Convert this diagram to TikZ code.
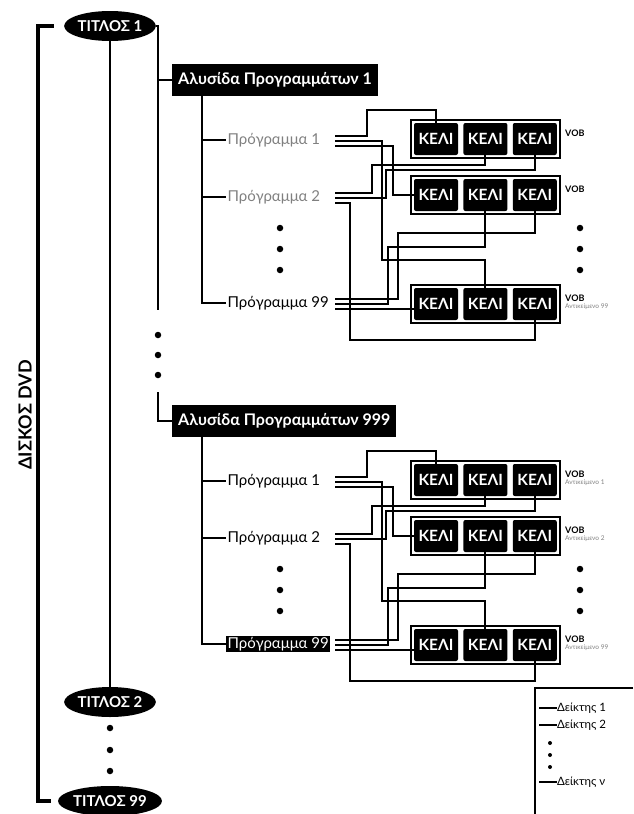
\documentclass[tikz,border=0pt]{standalone}
\usepackage{fontspec}
\setmainfont{Lato}
\usetikzlibrary{positioning, fit, shapes.geometric}
\tikzset{
  title/.style={
    ellipse,
    fill=black,
    text=white,
    inner sep=0pt,
    minimum width=90pt,
    minimum height=30pt,
    font=\bfseries\fontsize{15}{15}\selectfont
  },
  chainbox/.style={
    fill=black,
    text=white,
    anchor=west,
    minimum height=32pt,
    inner xsep=6pt,
    font=\bfseries\fontsize{16}{16}\selectfont
  },
  cell/.style={
    fill=black,
    text=white,
    rounded corners=2pt,
    minimum width=44pt,
    minimum height=32pt,
    inner sep=0pt,
    font=\bfseries\fontsize{15.5}{16}\selectfont
  },
  vobframe/.style={draw, line width=1.6pt, inner sep=3pt},
  vobtext/.style={anchor=west, inner sep=0pt, font=\bfseries\fontsize{9}{9}\selectfont},
  vobsub/.style={anchor=north west, inner sep=0pt, text=gray, font=\fontsize{6.5}{6.5}\selectfont},
  prog/.style={anchor=west, inner sep=1.5pt, font=\fontsize{15}{15}\selectfont},
  legtext/.style={anchor=west, inner sep=0pt, font=\fontsize{11.5}{12}\selectfont},
  dot/.style={circle, fill=black, inner sep=0pt, minimum size=6.5pt},
  link/.style={line width=2.4pt},
  ptr/.style={line width=2pt},
  disc/.style={line width=4pt}
}

\begin{document}
\begin{tikzpicture}[x=1pt, y=-1pt]
  \useasboundingbox (0,0) rectangle (633,814);

  % titles on the disc
  \node[title] (t1) at (110,26) {ΤΙΤΛΟΣ 1};
  \node[title] (t2) at (110,702) {ΤΙΤΛΟΣ 2};
  \node[title] (t99) at (110,801) {ΤΙΤΛΟΣ 99};
  \node[dot] (td1) at (110,728) {};
  \node[dot] (td2) at (110,750) {};
  \node[dot] (td3) at (110,771) {};
  \node[rotate=90, font=\bfseries\fontsize{18}{18}\selectfont] (disk) at (25,415) {ΔΙΣΚΟΣ DVD};

  \draw[disc] ([xshift=-10pt]t1.west) -| (38,400) |- ([xshift=-7pt]t99.west);
  \draw[link] (t1.south) -- (t2.north);

  % program chains
  \foreach \bl/\dy/\chn/\pcol/\pfil/\ptxt in {A/0/1/gray/white/black, B/341/999/black/black/white} {
    \node[chainbox] (\bl ch) at (172,80+\dy) {Αλυσίδα Προγραμμάτων \chn};
    \node[prog, text=\pcol] (\bl p1) at (226,140+\dy) {Πρόγραμμα 1};
    \node[prog, text=\pcol] (\bl p2) at (226,197+\dy) {Πρόγραμμα 2};
    \node[prog, fill=\pfil, text=\ptxt] (\bl p99) at (226,303+\dy) {Πρόγραμμα 99};

    \coordinate (\bl trunk) at ([xshift=30pt]\bl ch.south west);
    \draw[link] (\bl trunk) |- (\bl p99.west);
    \draw[link] (\bl trunk |- \bl p1.west) -- (\bl p1.west);
    \draw[link] (\bl trunk |- \bl p2.west) -- (\bl p2.west);

    \foreach \dd [count=\i] in {228,249,270} {
      \node[dot] (\bl dl\i) at (280,\dd+\dy) {};
      \node[dot] (\bl dr\i) at (580,\dd+\dy) {};
    }

    % VOBs with three cells
    \foreach \rw/\ry in {1/139, 2/195, 3/304} {
      \node[cell] (\bl r\rw c1) at (436,\ry+\dy) {ΚΕΛΙ};
      \node[cell, right=5pt of \bl r\rw c1] (\bl r\rw c2) {ΚΕΛΙ};
      \node[cell, right=5pt of \bl r\rw c2] (\bl r\rw c3) {ΚΕΛΙ};
      \node[vobframe, fit=(\bl r\rw c1)(\bl r\rw c3)] (\bl v\rw) {};
      \node[vobtext] (\bl l\rw) at (565,\ry+\dy-6) {VOB};
    }

    % pointers
    \coordinate (\bl s11) at (335,136+\dy);
    \coordinate (\bl s12) at (335,141+\dy);
    \coordinate (\bl s13) at (335,146+\dy);
    \coordinate (\bl s21) at (335,193+\dy);
    \coordinate (\bl s22) at (335,198+\dy);
    \coordinate (\bl s23) at (335,203+\dy);
    \coordinate (\bl s91) at (335,299+\dy);
    \coordinate (\bl s92) at (335,304+\dy);
    \coordinate (\bl s93) at (335,309+\dy);

    \draw[ptr] (\bl s11) -| (367,110+\dy) -| (\bl r1c1.north);
    \draw[ptr] (\bl s12) -| (382,260+\dy) -| (\bl r3c2.north);
    \draw[ptr] (\bl s13) -| (393,195+\dy) |- (\bl r2c1.west);
    \draw[ptr] (\bl s21) -| (372,165+\dy) -| (\bl r1c2.south);
    \draw[ptr] (\bl s22) -| (386,170+\dy) -| (\bl r1c3.south);
    \draw[ptr] (\bl s23) -| (350,340+\dy) -| (\bl r3c3.south);
    \draw[ptr] (\bl s91) -| (398,233+\dy) -| (\bl r2c3.south);
    \draw[ptr] (\bl s92) -| (388,247+\dy) -| (\bl r2c2.south);
    \draw[ptr] (\bl s93) -- (\bl s93 -| \bl r3c1.west);
  }

  \node[vobsub] (As3) at ([yshift=-2pt]Al3.south west) {Αντικείμενο 99};
  \node[vobsub] (Bs1) at ([yshift=-2pt]Bl1.south west) {Αντικείμενο 1};
  \node[vobsub] (Bs2) at ([yshift=-2pt]Bl2.south west) {Αντικείμενο 2};
  \node[vobsub] (Bs3) at ([yshift=-2pt]Bl3.south west) {Αντικείμενο 99};

  % chain trunk from the first title
  \coordinate (k1) at (158,310);
  \coordinate (k2) at (158,392);
  \draw[link] (t1.east) -| (k1);
  \draw[link] (k1 |- Ach.west) -- (Ach.west);
  \node[dot] (kd1) at (158,335) {};
  \node[dot] (kd2) at (158,355) {};
  \node[dot] (kd3) at (158,375) {};
  \draw[link] (k2) |- (Bch.west);

  % legend
  \draw[line width=1.6pt] (633,688) -| (535,814);
  \node[legtext] (g1) at (557,708) {Δείκτης 1};
  \node[legtext] (g2) at (557,725) {Δείκτης 2};
  \node[legtext] (gn) at (557,782) {Δείκτης ν};
  \coordinate (g1s) at (539,708);
  \coordinate (g2s) at (539,725);
  \coordinate (gns) at (539,782);
  \draw[ptr] (g1s) -- (g1.west);
  \draw[ptr] (g2s) -- (g2.west);
  \draw[ptr] (gns) -- (gn.west);
  \node[dot, minimum size=4pt] (gd1) at (550,743) {};
  \node[dot, minimum size=4pt] (gd2) at (550,755) {};
  \node[dot, minimum size=4pt] (gd3) at (550,767) {};
\end{tikzpicture}
\end{document}
